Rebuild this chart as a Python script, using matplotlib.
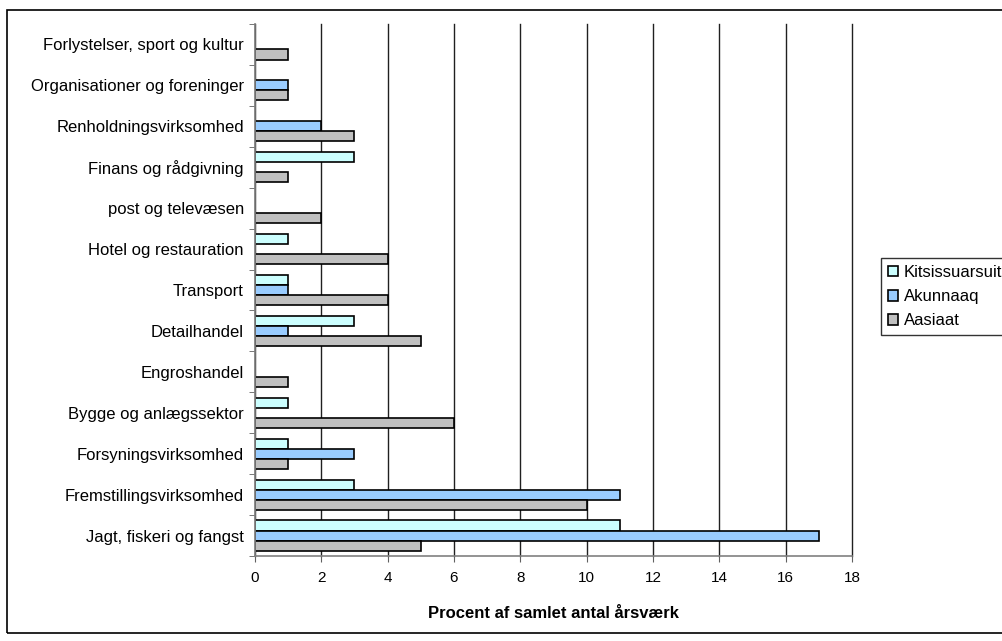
import numpy as np
import matplotlib
matplotlib.use('Agg')
import matplotlib.pyplot as plt
from matplotlib.patches import Rectangle

plt.rcParams['font.family'] = ['Liberation Sans', 'DejaVu Sans']

categories = ['Jagt, fiskeri og fangst', 'Fremstillingsvirksomhed', 'Forsyningsvirksomhed',
              'Bygge og anlægssektor', 'Engroshandel', 'Detailhandel', 'Transport',
              'Hotel og restauration', 'post og televæsen', 'Finans og rådgivning',
              'Renholdningsvirksomhed', 'Organisationer og foreninger',
              'Forlystelser, sport og kultur']
kitsissuarsuit = [11, 3, 1, 1, 0, 3, 1, 1, 0, 3, 0, 0, 0]
akunnaaq = [17, 11, 3, 0, 0, 1, 1, 0, 0, 0, 2, 1, 0]
aasiaat = [5, 10, 1, 6, 1, 5, 4, 4, 2, 1, 3, 1, 1]

fig = plt.figure(figsize=(10.03, 6.41), dpi=100)
# outer chart border (right side runs off the image)
fig.patches.append(Rectangle((7/1003, 1-633/641), 1.1, (633-10)/641, transform=fig.transFigure,
                             fill=False, edgecolor='black', linewidth=1.2))
ax = fig.add_axes([255/1003, 1-556/641, (852-255)/1003, (556-24)/641])

y = np.arange(len(categories))
h = 0.245
ax.barh(y + h, kitsissuarsuit, h, color='#CCFFFF', edgecolor='black', linewidth=1.2, label='Kitsissuarsuit')
ax.barh(y, akunnaaq, h, color='#99CCFF', edgecolor='black', linewidth=1.2, label='Akunnaaq')
ax.barh(y - h, aasiaat, h, color='#C0C0C0', edgecolor='black', linewidth=1.2, label='Aasiaat')

ax.set_xlim(0, 18)
ax.set_ylim(-0.5, len(categories) - 0.5)
ax.set_xticks(np.arange(0, 19, 2))
ax.set_yticks(y)
ax.set_yticklabels(categories, fontsize=12)
ax.set_yticks(np.arange(-0.5, len(categories), 1), minor=True)
ax.tick_params(axis='y', which='major', length=0, pad=8)
ax.tick_params(axis='y', which='minor', length=4, direction='out', color='#606060')
ax.tick_params(axis='x', labelsize=11, length=4, direction='out', color='#606060', pad=7)
ax.xaxis.grid(True, color='#202020', linewidth=1)
for gl in ax.get_xgridlines():
    gl.set_clip_on(False)
ax.set_axisbelow(True)
for s in ['top', 'right']:
    ax.spines[s].set_visible(False)
for s in ['left', 'bottom']:
    ax.spines[s].set_color('#808080')
    ax.spines[s].set_linewidth(1.2)
ax.set_xlabel('Procent af samlet antal årsværk', fontsize=12, fontweight='bold', labelpad=15)

ax.legend(loc='lower left', bbox_to_anchor=(881/1003, 1-335/641), bbox_transform=fig.transFigure,
          frameon=True, fancybox=False, edgecolor='black', fontsize=12, handlelength=0.6,
          handleheight=0.6, handletextpad=0.35, borderpad=0.4, labelspacing=0.55, borderaxespad=0)

fig.savefig('out.png', dpi=100)
